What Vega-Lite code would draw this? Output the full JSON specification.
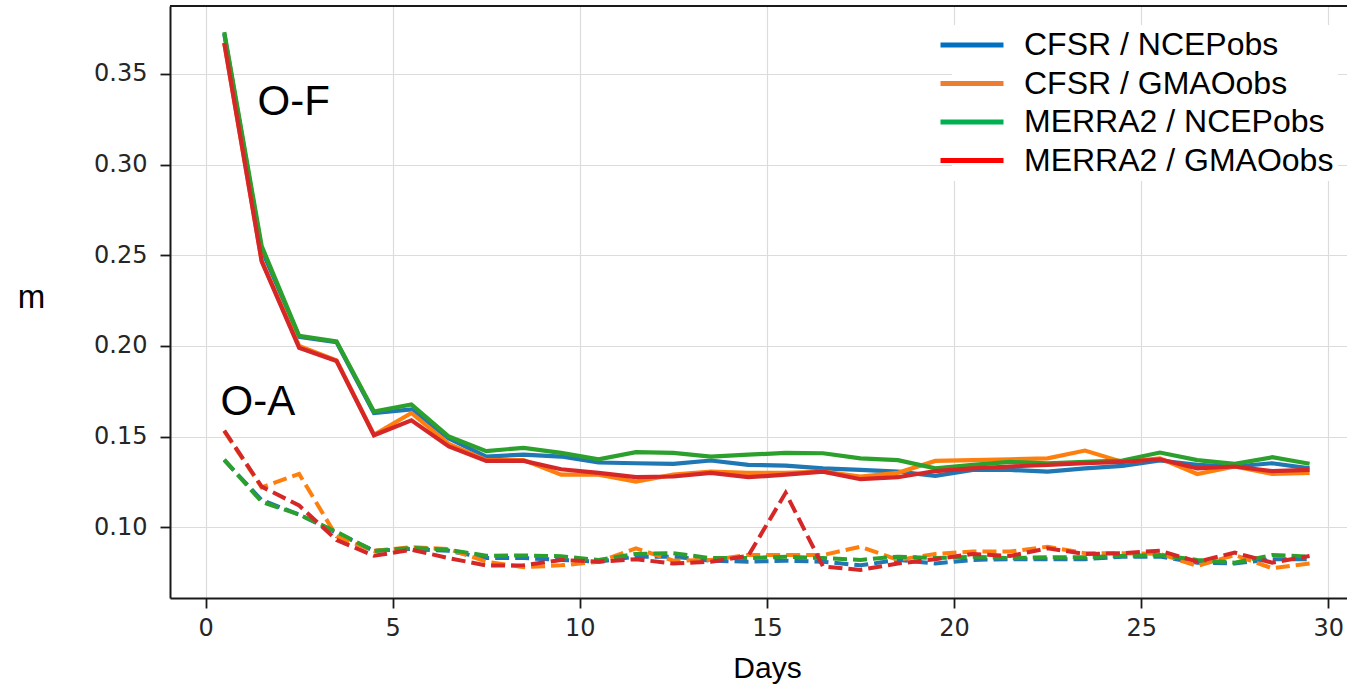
{
  "$schema": "https://vega.github.io/schema/vega-lite/v6.json",
  "description": "O-F and O-A statistics by day for CFSR and MERRA2 backgrounds with NCEP and GMAO observations",
  "width": 1177,
  "height": 592,
  "autosize": {"type": "none"},
  "padding": {"left": 170, "top": 6, "right": 0, "bottom": 91},
  "background": "white",
  "config": {
    "view": {"stroke": null},
    "axis": {
      "grid": true,
      "gridColor": "#dcdcdc",
      "gridWidth": 1.2,
      "domainColor": "#1a1a1a",
      "domainWidth": 2,
      "tickColor": "#1a1a1a",
      "tickWidth": 1.8,
      "tickSize": 10,
      "labelFont": "DejaVu Sans",
      "labelFontSize": 24,
      "labelColor": "#262626",
      "labelFlush": false,
      "labelOverlap": false,
      "titleFont": "Liberation Sans",
      "titleFontWeight": "normal",
      "titleColor": "black"
    }
  },
  "datasets": {
    "curves": [
      {"d": 0.5, "k": "O-F", "CFSR / NCEPobs": 0.372, "CFSR / GMAOobs": 0.367, "MERRA2 / NCEPobs": 0.373, "MERRA2 / GMAOobs": 0.367},
      {"d": 1.5, "k": "O-F", "CFSR / NCEPobs": 0.253, "CFSR / GMAOobs": 0.247, "MERRA2 / NCEPobs": 0.255, "MERRA2 / GMAOobs": 0.2466},
      {"d": 2.5, "k": "O-F", "CFSR / NCEPobs": 0.205, "CFSR / GMAOobs": 0.2, "MERRA2 / NCEPobs": 0.2056, "MERRA2 / GMAOobs": 0.199},
      {"d": 3.5, "k": "O-F", "CFSR / NCEPobs": 0.202, "CFSR / GMAOobs": 0.192, "MERRA2 / NCEPobs": 0.2025, "MERRA2 / GMAOobs": 0.1917},
      {"d": 4.5, "k": "O-F", "CFSR / NCEPobs": 0.163, "CFSR / GMAOobs": 0.151, "MERRA2 / NCEPobs": 0.1638, "MERRA2 / GMAOobs": 0.1507},
      {"d": 5.5, "k": "O-F", "CFSR / NCEPobs": 0.165, "CFSR / GMAOobs": 0.163, "MERRA2 / NCEPobs": 0.1677, "MERRA2 / GMAOobs": 0.159},
      {"d": 6.5, "k": "O-F", "CFSR / NCEPobs": 0.149, "CFSR / GMAOobs": 0.146, "MERRA2 / NCEPobs": 0.15, "MERRA2 / GMAOobs": 0.1446},
      {"d": 7.5, "k": "O-F", "CFSR / NCEPobs": 0.139, "CFSR / GMAOobs": 0.137, "MERRA2 / NCEPobs": 0.142, "MERRA2 / GMAOobs": 0.1366},
      {"d": 8.5, "k": "O-F", "CFSR / NCEPobs": 0.14, "CFSR / GMAOobs": 0.137, "MERRA2 / NCEPobs": 0.1438, "MERRA2 / GMAOobs": 0.1366},
      {"d": 9.5, "k": "O-F", "CFSR / NCEPobs": 0.139, "CFSR / GMAOobs": 0.129, "MERRA2 / NCEPobs": 0.141, "MERRA2 / GMAOobs": 0.132},
      {"d": 10.5, "k": "O-F", "CFSR / NCEPobs": 0.1357, "CFSR / GMAOobs": 0.129, "MERRA2 / NCEPobs": 0.1375, "MERRA2 / GMAOobs": 0.13},
      {"d": 11.5, "k": "O-F", "CFSR / NCEPobs": 0.1353, "CFSR / GMAOobs": 0.1252, "MERRA2 / NCEPobs": 0.1414, "MERRA2 / GMAOobs": 0.1276},
      {"d": 12.5, "k": "O-F", "CFSR / NCEPobs": 0.135, "CFSR / GMAOobs": 0.129, "MERRA2 / NCEPobs": 0.141, "MERRA2 / GMAOobs": 0.128},
      {"d": 13.5, "k": "O-F", "CFSR / NCEPobs": 0.1368, "CFSR / GMAOobs": 0.1307, "MERRA2 / NCEPobs": 0.139, "MERRA2 / GMAOobs": 0.13},
      {"d": 14.5, "k": "O-F", "CFSR / NCEPobs": 0.1344, "CFSR / GMAOobs": 0.13, "MERRA2 / NCEPobs": 0.14, "MERRA2 / GMAOobs": 0.1276},
      {"d": 15.5, "k": "O-F", "CFSR / NCEPobs": 0.134, "CFSR / GMAOobs": 0.13, "MERRA2 / NCEPobs": 0.141, "MERRA2 / GMAOobs": 0.129},
      {"d": 16.5, "k": "O-F", "CFSR / NCEPobs": 0.1325, "CFSR / GMAOobs": 0.1307, "MERRA2 / NCEPobs": 0.1408, "MERRA2 / GMAOobs": 0.1307},
      {"d": 17.5, "k": "O-F", "CFSR / NCEPobs": 0.1316, "CFSR / GMAOobs": 0.128, "MERRA2 / NCEPobs": 0.138, "MERRA2 / GMAOobs": 0.1265},
      {"d": 18.5, "k": "O-F", "CFSR / NCEPobs": 0.1307, "CFSR / GMAOobs": 0.13, "MERRA2 / NCEPobs": 0.137, "MERRA2 / GMAOobs": 0.1276},
      {"d": 19.5, "k": "O-F", "CFSR / NCEPobs": 0.1283, "CFSR / GMAOobs": 0.1366, "MERRA2 / NCEPobs": 0.1325, "MERRA2 / GMAOobs": 0.131},
      {"d": 20.5, "k": "O-F", "CFSR / NCEPobs": 0.1316, "CFSR / GMAOobs": 0.137, "MERRA2 / NCEPobs": 0.1344, "MERRA2 / GMAOobs": 0.1325},
      {"d": 21.5, "k": "O-F", "CFSR / NCEPobs": 0.1316, "CFSR / GMAOobs": 0.1375, "MERRA2 / NCEPobs": 0.136, "MERRA2 / GMAOobs": 0.1335},
      {"d": 22.5, "k": "O-F", "CFSR / NCEPobs": 0.1307, "CFSR / GMAOobs": 0.138, "MERRA2 / NCEPobs": 0.1353, "MERRA2 / GMAOobs": 0.1344},
      {"d": 23.5, "k": "O-F", "CFSR / NCEPobs": 0.1325, "CFSR / GMAOobs": 0.1423, "MERRA2 / NCEPobs": 0.136, "MERRA2 / GMAOobs": 0.1353},
      {"d": 24.5, "k": "O-F", "CFSR / NCEPobs": 0.1338, "CFSR / GMAOobs": 0.136, "MERRA2 / NCEPobs": 0.1368, "MERRA2 / GMAOobs": 0.136},
      {"d": 25.5, "k": "O-F", "CFSR / NCEPobs": 0.1368, "CFSR / GMAOobs": 0.138, "MERRA2 / NCEPobs": 0.1412, "MERRA2 / GMAOobs": 0.1375},
      {"d": 26.5, "k": "O-F", "CFSR / NCEPobs": 0.1344, "CFSR / GMAOobs": 0.1294, "MERRA2 / NCEPobs": 0.137, "MERRA2 / GMAOobs": 0.1325},
      {"d": 27.5, "k": "O-F", "CFSR / NCEPobs": 0.1335, "CFSR / GMAOobs": 0.1335, "MERRA2 / NCEPobs": 0.135, "MERRA2 / GMAOobs": 0.1335},
      {"d": 28.5, "k": "O-F", "CFSR / NCEPobs": 0.1353, "CFSR / GMAOobs": 0.1294, "MERRA2 / NCEPobs": 0.1386, "MERRA2 / GMAOobs": 0.131},
      {"d": 29.5, "k": "O-F", "CFSR / NCEPobs": 0.1325, "CFSR / GMAOobs": 0.13, "MERRA2 / NCEPobs": 0.135, "MERRA2 / GMAOobs": 0.1316},
      {"d": 0.5, "k": "O-A", "CFSR / NCEPobs": 0.137, "CFSR / GMAOobs": 0.153, "MERRA2 / NCEPobs": 0.1373, "MERRA2 / GMAOobs": 0.1533},
      {"d": 1.5, "k": "O-A", "CFSR / NCEPobs": 0.115, "CFSR / GMAOobs": 0.122, "MERRA2 / NCEPobs": 0.114, "MERRA2 / GMAOobs": 0.1224},
      {"d": 2.5, "k": "O-A", "CFSR / NCEPobs": 0.107, "CFSR / GMAOobs": 0.1294, "MERRA2 / NCEPobs": 0.107, "MERRA2 / GMAOobs": 0.112},
      {"d": 3.5, "k": "O-A", "CFSR / NCEPobs": 0.097, "CFSR / GMAOobs": 0.095, "MERRA2 / NCEPobs": 0.0975, "MERRA2 / GMAOobs": 0.093},
      {"d": 4.5, "k": "O-A", "CFSR / NCEPobs": 0.087, "CFSR / GMAOobs": 0.087, "MERRA2 / NCEPobs": 0.0869, "MERRA2 / GMAOobs": 0.0843},
      {"d": 5.5, "k": "O-A", "CFSR / NCEPobs": 0.088, "CFSR / GMAOobs": 0.089, "MERRA2 / NCEPobs": 0.0886, "MERRA2 / GMAOobs": 0.0876},
      {"d": 6.5, "k": "O-A", "CFSR / NCEPobs": 0.087, "CFSR / GMAOobs": 0.088, "MERRA2 / NCEPobs": 0.0876, "MERRA2 / GMAOobs": 0.083},
      {"d": 7.5, "k": "O-A", "CFSR / NCEPobs": 0.083, "CFSR / GMAOobs": 0.081, "MERRA2 / NCEPobs": 0.0843, "MERRA2 / GMAOobs": 0.0789},
      {"d": 8.5, "k": "O-A", "CFSR / NCEPobs": 0.083, "CFSR / GMAOobs": 0.078, "MERRA2 / NCEPobs": 0.0845, "MERRA2 / GMAOobs": 0.079},
      {"d": 9.5, "k": "O-A", "CFSR / NCEPobs": 0.082, "CFSR / GMAOobs": 0.079, "MERRA2 / NCEPobs": 0.084, "MERRA2 / GMAOobs": 0.082},
      {"d": 10.5, "k": "O-A", "CFSR / NCEPobs": 0.081, "CFSR / GMAOobs": 0.081, "MERRA2 / NCEPobs": 0.082, "MERRA2 / GMAOobs": 0.081},
      {"d": 11.5, "k": "O-A", "CFSR / NCEPobs": 0.0838, "CFSR / GMAOobs": 0.0884, "MERRA2 / NCEPobs": 0.0853, "MERRA2 / GMAOobs": 0.0824},
      {"d": 12.5, "k": "O-A", "CFSR / NCEPobs": 0.0838, "CFSR / GMAOobs": 0.0816, "MERRA2 / NCEPobs": 0.0857, "MERRA2 / GMAOobs": 0.08},
      {"d": 13.5, "k": "O-A", "CFSR / NCEPobs": 0.0816, "CFSR / GMAOobs": 0.082, "MERRA2 / NCEPobs": 0.083, "MERRA2 / GMAOobs": 0.081},
      {"d": 14.5, "k": "O-A", "CFSR / NCEPobs": 0.081, "CFSR / GMAOobs": 0.0847, "MERRA2 / NCEPobs": 0.083, "MERRA2 / GMAOobs": 0.0842},
      {"d": 15.5, "k": "O-A", "CFSR / NCEPobs": 0.0816, "CFSR / GMAOobs": 0.0847, "MERRA2 / NCEPobs": 0.0838, "MERRA2 / GMAOobs": 0.119},
      {"d": 16.5, "k": "O-A", "CFSR / NCEPobs": 0.081, "CFSR / GMAOobs": 0.0847, "MERRA2 / NCEPobs": 0.083, "MERRA2 / GMAOobs": 0.0783},
      {"d": 17.5, "k": "O-A", "CFSR / NCEPobs": 0.079, "CFSR / GMAOobs": 0.0893, "MERRA2 / NCEPobs": 0.082, "MERRA2 / GMAOobs": 0.0765},
      {"d": 18.5, "k": "O-A", "CFSR / NCEPobs": 0.082, "CFSR / GMAOobs": 0.082, "MERRA2 / NCEPobs": 0.0838, "MERRA2 / GMAOobs": 0.08},
      {"d": 19.5, "k": "O-A", "CFSR / NCEPobs": 0.08, "CFSR / GMAOobs": 0.0853, "MERRA2 / NCEPobs": 0.083, "MERRA2 / GMAOobs": 0.0824},
      {"d": 20.5, "k": "O-A", "CFSR / NCEPobs": 0.082, "CFSR / GMAOobs": 0.0866, "MERRA2 / NCEPobs": 0.0838, "MERRA2 / GMAOobs": 0.0853},
      {"d": 21.5, "k": "O-A", "CFSR / NCEPobs": 0.0824, "CFSR / GMAOobs": 0.0866, "MERRA2 / NCEPobs": 0.083, "MERRA2 / GMAOobs": 0.0842},
      {"d": 22.5, "k": "O-A", "CFSR / NCEPobs": 0.0824, "CFSR / GMAOobs": 0.0893, "MERRA2 / NCEPobs": 0.0835, "MERRA2 / GMAOobs": 0.0884},
      {"d": 23.5, "k": "O-A", "CFSR / NCEPobs": 0.0824, "CFSR / GMAOobs": 0.0857, "MERRA2 / NCEPobs": 0.0835, "MERRA2 / GMAOobs": 0.0853},
      {"d": 24.5, "k": "O-A", "CFSR / NCEPobs": 0.0838, "CFSR / GMAOobs": 0.0857, "MERRA2 / NCEPobs": 0.0842, "MERRA2 / GMAOobs": 0.0857},
      {"d": 25.5, "k": "O-A", "CFSR / NCEPobs": 0.0838, "CFSR / GMAOobs": 0.0853, "MERRA2 / NCEPobs": 0.0847, "MERRA2 / GMAOobs": 0.0871},
      {"d": 26.5, "k": "O-A", "CFSR / NCEPobs": 0.0805, "CFSR / GMAOobs": 0.0787, "MERRA2 / NCEPobs": 0.082, "MERRA2 / GMAOobs": 0.081},
      {"d": 27.5, "k": "O-A", "CFSR / NCEPobs": 0.08, "CFSR / GMAOobs": 0.0847, "MERRA2 / NCEPobs": 0.0805, "MERRA2 / GMAOobs": 0.086},
      {"d": 28.5, "k": "O-A", "CFSR / NCEPobs": 0.0824, "CFSR / GMAOobs": 0.0774, "MERRA2 / NCEPobs": 0.0847, "MERRA2 / GMAOobs": 0.0805},
      {"d": 29.5, "k": "O-A", "CFSR / NCEPobs": 0.0824, "CFSR / GMAOobs": 0.08, "MERRA2 / NCEPobs": 0.0838, "MERRA2 / GMAOobs": 0.0842}
    ],
    "notes": [
      {"d": 1.39, "v": 0.3345, "t": "O-F"},
      {"d": 0.4, "v": 0.1692, "t": "O-A"}
    ],
    "keys": [
      {"series": "CFSR / NCEPobs"},
      {"series": "CFSR / GMAOobs"},
      {"series": "MERRA2 / NCEPobs"},
      {"series": "MERRA2 / GMAOobs"}
    ]
  },
  "layer": [
    {
      "data": {"name": "curves"},
      "transform": [
        {"filter": "datum.k === 'O-F'"},
        {"fold": ["CFSR / NCEPobs", "CFSR / GMAOobs", "MERRA2 / NCEPobs", "MERRA2 / GMAOobs"], "as": ["s", "v"]}
      ],
      "mark": {"type": "line", "strokeWidth": 4.2},
      "encoding": {
        "x": {
          "field": "d",
          "type": "quantitative",
          "scale": {"domain": [-0.95, 30.5], "nice": false, "zero": false},
          "axis": {
            "values": [0, 5, 10, 15, 20, 25, 30],
            "title": "Days",
            "labelPadding": 8,
            "titleFontSize": 30,
            "titleX": 597,
            "titleY": 79,
            "titleBaseline": "alphabetic"
          }
        },
        "y": {
          "field": "v",
          "type": "quantitative",
          "scale": {"domain": [0.061, 0.3874], "nice": false, "zero": false},
          "axis": {
            "values": [0.1, 0.15, 0.2, 0.25, 0.3, 0.35],
            "format": ".2f",
            "title": "m",
            "labelPadding": 13,
            "titleAngle": 0,
            "titleFontSize": 33,
            "titleX": -139,
            "titleY": 291,
            "titleAlign": "center",
            "titleBaseline": "middle"
          }
        },
        "stroke": {
          "field": "s",
          "type": "nominal",
          "scale": {
            "domain": ["CFSR / GMAOobs", "CFSR / NCEPobs", "MERRA2 / GMAOobs", "MERRA2 / NCEPobs"],
            "range": ["#ff7f0e", "#1f77b4", "#d62728", "#2ca02c"]
          },
          "legend": null
        }
      }
    },
    {
      "data": {"name": "curves"},
      "transform": [
        {"filter": "datum.k === 'O-A'"},
        {"fold": ["CFSR / NCEPobs", "CFSR / GMAOobs", "MERRA2 / NCEPobs", "MERRA2 / GMAOobs"], "as": ["s", "v"]}
      ],
      "mark": {"type": "line", "strokeWidth": 4, "strokeDash": [14, 6]},
      "encoding": {
        "x": {"field": "d", "type": "quantitative"},
        "y": {"field": "v", "type": "quantitative"},
        "stroke": {"field": "s", "type": "nominal", "legend": null}
      }
    },
    {
      "data": {"name": "keys"},
      "mark": {"type": "line", "strokeWidth": 5},
      "encoding": {
        "color": {
          "field": "series",
          "type": "nominal",
          "scale": {
            "domain": ["CFSR / NCEPobs", "CFSR / GMAOobs", "MERRA2 / NCEPobs", "MERRA2 / GMAOobs"],
            "range": ["#0070c0", "#ed7d31", "#00b050", "#ff0000"]
          },
          "legend": {
            "title": null,
            "orient": "none",
            "legendX": 782,
            "legendY": 19,
            "padding": 4,
            "fillColor": "white",
            "symbolType": "M-3,0H3",
            "symbolSize": 441,
            "symbolStrokeWidth": 5,
            "labelFont": "Liberation Sans",
            "labelFontSize": 32,
            "labelColor": "black",
            "labelOffset": 36,
            "labelLimit": 500,
            "rowPadding": 6.5
          }
        }
      }
    },
    {
      "data": {"name": "notes"},
      "mark": {"type": "text", "align": "left", "baseline": "middle", "font": "Liberation Sans", "fontSize": 42, "color": "black"},
      "encoding": {
        "x": {"field": "d", "type": "quantitative"},
        "y": {"field": "v", "type": "quantitative"},
        "text": {"field": "t"}
      }
    },
    {
      "data": {"values": [{}]},
      "mark": {"type": "rule", "color": "#1a1a1a", "strokeWidth": 2},
      "encoding": {"y": {"datum": 0.3874}}
    }
  ]
}
